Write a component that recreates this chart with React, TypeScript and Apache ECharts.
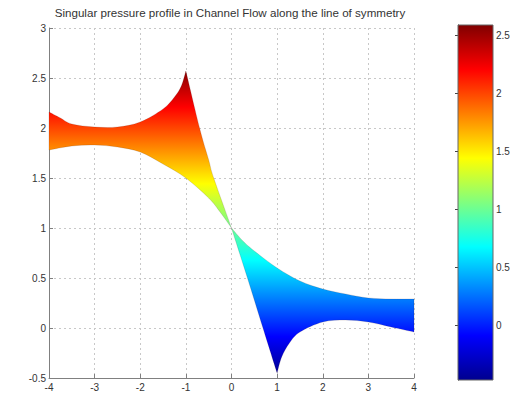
import React, { useEffect, useRef } from "react";
import * as echarts from "echarts";

// Upper boundary of the pressure patch, left to right
const upperX = [-4, -3.75, -3.5, -3, -2.5, -2, -1.5, -1.25, -1.1, -1, -0.7, -0.5, -0.39, 0, 0.25, 0.5, 1, 1.5, 2, 2.5, 3, 3.5, 4];
const upperY = [2.16, 2.1, 2.04, 2.01, 2.01, 2.06, 2.19, 2.31, 2.42, 2.57, 2.0, 1.68, 1.5, 1.0, 0.87, 0.77, 0.6, 0.47, 0.39, 0.34, 0.3, 0.29, 0.29];
// x positions where the upper boundary has a corner
const upperCorners = [-1, 0];
// Lower boundary, left to right
const lowerX = [-4, -3.5, -3, -2.5, -2, -1.5, -1, -0.5, -0.25, 0, 0.35, 0.69, 1, 1.1, 1.27, 1.5, 2, 2.5, 3, 3.5, 4];
const lowerY = [1.78, 1.82, 1.83, 1.81, 1.76, 1.64, 1.5, 1.3, 1.16, 1.0, 0.5, 0.0, -0.45, -0.29, -0.15, -0.04, 0.06, 0.08, 0.06, 0.01, -0.04];
// x positions where the lower boundary has a corner
const lowerCorners = [0, 1];

// Colour scale range and colourbar ticks
const cMin = -0.47;
const cMax = 2.59;
const colorbarTicks = [0, 0.5, 1, 1.5, 2, 2.5];

const titleText = "Singular pressure profile in Channel Flow along the line of symmetry";

// jet colormap stops, from top (max) to bottom (min)
const jetStops = [
  { offset: 0, color: "#800000" },
  { offset: 0.125, color: "#ff0000" },
  { offset: 0.375, color: "#ffff00" },
  { offset: 0.625, color: "#00ffff" },
  { offset: 0.875, color: "#0000ff" },
  { offset: 1, color: "#00008f" },
];

type P = number[];

// split a list of pixel points into smooth pieces at corner indices
function pieces(pts: P[], xs: number[], corners: number[]): P[][] {
  const out: P[][] = [];
  let cur: P[] = [];
  for (let i = 0; i < pts.length; i++) {
    cur.push(pts[i]);
    if (corners.indexOf(xs[i]) >= 0 && i > 0 && i < pts.length - 1) {
      out.push(cur);
      cur = [pts[i]];
    }
  }
  out.push(cur);
  return out;
}

// Catmull-Rom as cubic bezier path commands (no leading M)
function smoothPiece(pts: P[]): string {
  let d = "";
  for (let i = 0; i < pts.length - 1; i++) {
    const p0 = pts[i - 1] || pts[i];
    const p1 = pts[i];
    const p2 = pts[i + 1];
    const p3 = pts[i + 2] || pts[i + 1];
    const c1x = p1[0] + (p2[0] - p0[0]) / 6;
    const c1y = p1[1] + (p2[1] - p0[1]) / 6;
    const c2x = p2[0] - (p3[0] - p1[0]) / 6;
    const c2y = p2[1] - (p3[1] - p1[1]) / 6;
    d += ` C${c1x.toFixed(2)},${c1y.toFixed(2)} ${c2x.toFixed(2)},${c2y.toFixed(2)} ${p2[0].toFixed(2)},${p2[1].toFixed(2)}`;
  }
  return d;
}

export default function App() {
  const ref = useRef<HTMLDivElement>(null);
  useEffect(() => {
    document.body.style.margin = "0";
    const chart = echarts.init(ref.current!, undefined, { renderer: "svg" });
    const font = "Liberation Sans, Arial, sans-serif";
    const labelColor = "#333";
    const axisColor = "#808080";
    chart.setOption({
      animation: false,
      backgroundColor: "#fff",
      graphic: [
        {
          type: "text",
          x: 230,
          y: 12,
          style: {
            text: titleText,
            fontSize: 11.6,
            fontFamily: font,
            fill: "#333",
            align: "center",
            verticalAlign: "middle",
          },
        },
      ],
      grid: [
        { left: 49, right: 111, top: 28, bottom: 16 },
        { left: 458, width: 35, top: 25, bottom: 14 },
      ],
      xAxis: [
        {
          gridIndex: 0,
          type: "value",
          min: -4,
          max: 4,
          interval: 1,
          axisLine: { show: true, onZero: false, lineStyle: { color: axisColor, width: 1 } },
          axisTick: { show: true, inside: true, length: 4, lineStyle: { color: axisColor } },
          axisLabel: { color: labelColor, fontSize: 10, fontFamily: font, margin: 4 },
          splitLine: { show: true, lineStyle: { color: "#c8c8c8", type: [2, 3], width: 1 } },
        },
        {
          gridIndex: 1,
          type: "value",
          min: 0,
          max: 1,
          show: false,
        },
      ],
      yAxis: [
        {
          gridIndex: 0,
          type: "value",
          min: -0.5,
          max: 3,
          interval: 0.5,
          axisLine: { show: true, onZero: false, lineStyle: { color: axisColor, width: 1 } },
          axisTick: { show: true, inside: true, length: 4, lineStyle: { color: axisColor } },
          axisLabel: { color: labelColor, fontSize: 10, fontFamily: font, margin: 3 },
          splitLine: { show: true, lineStyle: { color: "#c8c8c8", type: [2, 3], width: 1 } },
        },
        {
          gridIndex: 1,
          type: "value",
          position: "right",
          min: cMin,
          max: cMax,
          axisLine: { show: true, lineStyle: { color: "#666", width: 1 } },
          axisTick: { show: true, inside: true, length: 3, customValues: colorbarTicks, lineStyle: { color: "#444" } },
          axisLabel: { color: labelColor, fontSize: 10, fontFamily: font, margin: 3, customValues: colorbarTicks },
          splitLine: { show: false },
        },
        {
          gridIndex: 1,
          type: "value",
          position: "left",
          min: cMin,
          max: cMax,
          axisLine: { show: true, lineStyle: { color: "#666", width: 1 } },
          axisTick: { show: true, inside: true, length: 3, customValues: colorbarTicks, lineStyle: { color: "#444" } },
          axisLabel: { show: false },
          splitLine: { show: false },
        },
      ],
      series: [
        {
          type: "custom",
          xAxisIndex: 0,
          yAxisIndex: 0,
          data: [[0, 1]],
          clip: false,
          renderItem: (_params: any, api: any) => {
            const up: P[] = upperX.map((x, i) => api.coord([x, upperY[i]]));
            const lo: P[] = lowerX.map((x, i) => api.coord([x, lowerY[i]]));
            const upPieces = pieces(up, upperX, upperCorners);
            const loRev = lo.slice().reverse();
            const loXRev = lowerX.slice().reverse();
            const loPieces = pieces(loRev, loXRev, lowerCorners);
            let d = `M${up[0][0].toFixed(2)},${up[0][1].toFixed(2)}`;
            upPieces.forEach((pc) => (d += smoothPiece(pc)));
            d += ` L${loRev[0][0].toFixed(2)},${loRev[0][1].toFixed(2)}`;
            loPieces.forEach((pc) => (d += smoothPiece(pc)));
            d += " Z";
            const top = api.coord([0, cMax])[1];
            const bot = api.coord([0, cMin])[1];
            return {
              type: "path",
              shape: { pathData: d },
              style: {
                fill: new echarts.graphic.LinearGradient(0, top, 0, bot, jetStops, true),
                stroke: "rgba(60,20,20,0.25)",
                lineWidth: 0.6,
              },
            };
          },
        },
        {
          type: "custom",
          xAxisIndex: 1,
          yAxisIndex: 1,
          data: [[0, 0]],
          clip: false,
          renderItem: (_params: any, api: any) => {
            const p1 = api.coord([0, cMax]);
            const p2 = api.coord([1, cMin]);
            return {
              type: "rect",
              shape: { x: p1[0], y: p1[1], width: p2[0] - p1[0], height: p2[1] - p1[1] },
              style: {
                fill: new echarts.graphic.LinearGradient(0, p1[1], 0, p2[1], jetStops, true),
                stroke: "#666",
                lineWidth: 1,
              },
            };
          },
        },
      ],
    });
    return () => chart.dispose();
  }, []);
  return <div ref={ref} style={{ width: 525, height: 394 }} />;
}
